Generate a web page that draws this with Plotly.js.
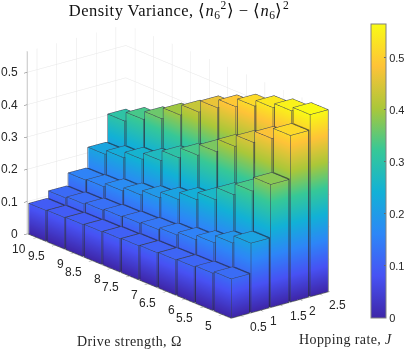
<!DOCTYPE html>
<html>
<head>
<meta charset="utf-8">
<script src="https://cdn.plot.ly/plotly-3.0.1.min.js"></script>
<style>html,body{margin:0;padding:0;background:#fff;overflow:hidden}#plot{width:407px;height:349px}
.gtitle{letter-spacing:0.45px}</style>
</head>
<body>
<div id="plot"></div>
<script>
// Hopping rate J and drive strength Omega
const hopping = [0.5, 1, 1.5, 2, 2.5];
const omega = [5, 5.5, 6, 6.5, 7, 7.5, 8, 8.5, 9, 9.5, 10];

// variance per row, same order as omega
const varJ05 = [0.121, 0.115, 0.111, 0.109, 0.107, 0.105, 0.103, 0.101, 0.099, 0.097, 0.095];
const varJ10 = [0.215, 0.192, 0.169, 0.155, 0.145, 0.138, 0.134, 0.131, 0.127, 0.122, 0.117];
const varJ15 = [0.380, 0.336, 0.301, 0.262, 0.238, 0.215, 0.196, 0.181, 0.170, 0.159, 0.156];
const varJ20 = [0.515, 0.482, 0.446, 0.410, 0.370, 0.335, 0.303, 0.271, 0.251, 0.232, 0.219];
const varJ25 = [0.563, 0.551, 0.537, 0.518, 0.492, 0.465, 0.428, 0.395, 0.360, 0.334, 0.305];
const rows = [varJ05, varJ10, varJ15, varJ20, varJ25];

const zTicks = [0, 0.1, 0.2, 0.3, 0.4, 0.5];
const zTop = 0.565;
const cTop = 0.565;

const parula = [
	[0, '#3e26a8'], [0.143, '#4752f4'], [0.286, '#2d87f7'], [0.429, '#12b1d6'],
	[0.571, '#37c897'], [0.714, '#abc739'], [0.857, '#fec338'], [1, '#f9fb14']
];
const parulaDark = [
	[0, '#22155c'], [0.143, '#272d86'], [0.286, '#194a88'], [0.429, '#0a6176'],
	[0.571, '#1e6e53'], [0.714, '#5e6d1f'], [0.857, '#8c6b1f'], [1, '#898a0b']
];

const dJ = 0.225;   // half bar width, J direction
const dO = 0.225;   // half bar width, Omega direction
const lift = 0.006; // edges sit just outside the faces
// pull the edge lines toward the camera so they do not fight with the faces
const nudgeJ = -0.016, nudgeO = -0.017, nudgeZ = 0.0013;
const textColor = '#262626';
const serif = 'Liberation Serif, serif';
const sans = 'Liberation Sans, Arial, sans-serif';

function addBox(m, x0, x1, y0, y1, h) {
	const n = m.x.length;
	[[x0,y0],[x1,y0],[x1,y1],[x0,y1]].forEach(p => {
		m.x.push(p[0], p[0]);
		m.y.push(p[1], p[1]);
		m.z.push(0, h);
		m.c.push(0, h);
	});
	// vertices n+2k = bottom, n+2k+1 = top
	const quads = [[1,3,5,7],[0,1,3,2],[2,3,5,4],[4,5,7,6],[6,7,1,0]];
	quads.forEach(q => {
		m.i.push(n+q[0], n+q[0]);
		m.j.push(n+q[1], n+q[2]);
		m.k.push(n+q[2], n+q[3]);
	});
}

function newMesh() { return {x:[], y:[], z:[], c:[], i:[], j:[], k:[]}; }

const bars = newMesh();
const gaps = newMesh();
const ex = [], ey = [], ez = [];

function addEdges(x0, x1, y0, y1, h) {
	const loop = [[x0-lift,y0-lift],[x1+lift,y0-lift],[x1+lift,y1+lift],[x0-lift,y1+lift],[x0-lift,y0-lift]]
		.map(p => [p[0]+nudgeJ, p[1]+nudgeO]);
	[h+nudgeZ, nudgeZ].forEach(level => {
		loop.forEach(p => { ex.push(p[0]); ey.push(p[1]); ez.push(level); });
		ex.push(null); ey.push(null); ez.push(null);
	});
	loop.slice(0,4).forEach(p => {
		ex.push(p[0], p[0], null); ey.push(p[1], p[1], null); ez.push(nudgeZ, h+nudgeZ, null);
	});
}

rows.forEach((row, a) => {
	row.forEach((h, b) => {
		const J = hopping[a], O = omega[b];
		addBox(bars, J-dJ, J+dJ, O-dO, O+dO, h);
		addEdges(J-dJ, J+dJ, O-dO, O+dO, h);
		// dark slit to the next bar
		if (a < rows.length-1) addBox(gaps, J+dJ, hopping[a+1]-dJ, O-dO+0.02, O+dO-0.02, Math.min(h, rows[a+1][b]));
		if (b < row.length-1) addBox(gaps, J-dJ+0.02, J+dJ-0.02, O+dO, omega[b+1]-dO, Math.min(h, row[b+1]));
	});
});

const flat = {ambient:1, diffuse:0, specular:0, roughness:1, fresnel:0};

const data = [
	{
		type:'mesh3d', x:bars.x, y:bars.y, z:bars.z, i:bars.i, j:bars.j, k:bars.k,
		intensity:bars.c, cmin:0, cmax:cTop, colorscale:parula, lighting:flat, hoverinfo:'skip',
		colorbar:{
			x:371/407, xanchor:'left', xpad:0, y:1-24/349, yanchor:'top', ypad:0,
			thickness:15, lenmode:'pixels', len:294,
			tickvals:zTicks, ticktext:['0','0.1','0.2','0.3','0.4','0.5'], ticks:'inside', ticklen:2, tickcolor:'#666',
			tickfont:{family:sans, size:11, color:textColor},
			outlinecolor:'#808080', outlinewidth:1
		}
	},
	{
		type:'mesh3d', x:gaps.x, y:gaps.y, z:gaps.z, i:gaps.i, j:gaps.j, k:gaps.k,
		intensity:gaps.c, cmin:0, cmax:cTop, colorscale:parulaDark, showscale:false, lighting:flat, hoverinfo:'skip'
	},
	{
		type:'scatter3d', mode:'lines', x:ex, y:ey, z:ez, connectgaps:false,
		line:{color:'#3a3f55', width:1}, hoverinfo:'skip', showlegend:false
	},
	{
		// the grey outer edge on the right corner
		type:'scatter3d', mode:'lines',
		x:[hopping[4]+dJ+lift+nudgeJ, hopping[4]+dJ+lift+nudgeJ], y:[omega[0]-dO-lift+nudgeO, omega[0]-dO-lift+nudgeO], z:[nudgeZ, varJ25[0]],
		line:{color:'#8a8a8a', width:2}, hoverinfo:'skip', showlegend:false
	}
];

const axisCommon = {
	showbackground:false, gridcolor:'#e6e6e6', gridwidth:1, zeroline:false, showspikes:false,
	showline:true, linecolor:'#8c8c8c', linewidth:1, ticks:'outside', ticklen:4, tickcolor:'#666',
	showticklabels:false, title:{text:''}, autorange:false
};

// tick labels as data-anchored text
const sceneNotes = [];
zTicks.forEach(v => sceneNotes.push({x:0.25, y:10.25, z:v, text:String(v), showarrow:false, xanchor:'right', yanchor:'middle', xshift:-7, font:{family:sans, size:12, color:textColor}}));
omega.forEach(v => sceneNotes.push({x:0.25, y:v, z:0, text:String(v), showarrow:false, xanchor:'right', yanchor:'middle', xshift:-8, yshift:-11, font:{family:sans, size:12, color:textColor}}));
hopping.forEach(v => sceneNotes.push({x:v, y:4.75, z:0, text:String(v), showarrow:false, xanchor:'left', yanchor:'middle', xshift:7, yshift:-11, font:{family:sans, size:12, color:textColor}}));

const layout = {
	width:407, height:349, paper_bgcolor:'#fff',
	margin:{l:0, r:0, t:0, b:0},
	showlegend:false,
	title:{text:'Density Variance, ⟨<i>n</i><sub>6</sub><sup>2</sup>⟩ − ⟨<i>n</i><sub>6</sub>⟩<sup>2</sup>',
		x:179/407, xanchor:'center', y:1-10/349, yanchor:'middle', font:{family:serif, size:16.5, color:'#111'}},
	scene:{
		domain:{x:[0, 358/407], y:[1-343/349, 1]},
		aspectmode:'manual', aspectratio:{x:0.74, y:1.89, z:1.13},
		camera:{eye:{x:-1.186, y:-1.464, z:0.672}, center:{x:0,y:0,z:0}, up:{x:0,y:0,z:1}, projection:{type:'orthographic'}},
		xaxis:Object.assign({}, axisCommon, {range:[0.25,2.75], tickvals:hopping}),
		yaxis:Object.assign({}, axisCommon, {range:[4.75,10.25], tickvals:omega}),
		zaxis:Object.assign({}, axisCommon, {range:[0,zTop], tickvals:zTicks}),
		annotations:sceneNotes
	},
	annotations:[
		{xref:'paper', yref:'paper', x:130/407, xanchor:'center', y:1-341/349, yanchor:'middle', text:'<span style="letter-spacing:0.4px">Drive strength, Ω</span>', showarrow:false, font:{family:serif, size:14, color:textColor}},
		{xref:'paper', yref:'paper', x:346/407, xanchor:'center', y:1-339/349, yanchor:'middle', text:'<span style="letter-spacing:0.4px">Hopping rate, <i>J</i></span>', showarrow:false, font:{family:serif, size:14, color:textColor}}
	]
};

Plotly.newPlot('plot', data, layout, {displayModeBar:false});
</script>
</body>
</html>
